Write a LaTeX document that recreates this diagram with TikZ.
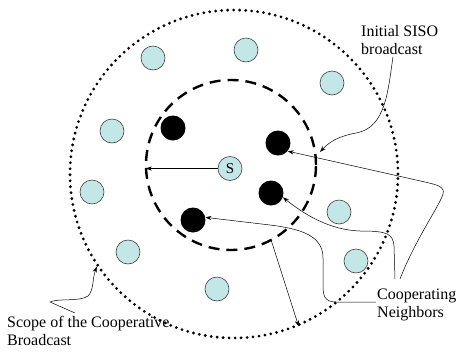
\documentclass[tikz,border=0pt]{standalone}
\usepackage{fontspec}
\setmainfont{Liberation Serif}
\usetikzlibrary{arrows.meta}
\definecolor{nodecol}{RGB}{195,230,230}
\begin{document}
\begin{tikzpicture}[x=1pt,y=-1pt,
  nbr/.style={circle, draw=black!75, line width=0.6pt, fill=nodecol, minimum size=24pt, inner sep=0pt},
  coop/.style={circle, fill=black, minimum size=25pt, inner sep=0pt},
  lbl/.style={font=\fontsize{16}{18}\selectfont, align=left, inner sep=0pt, anchor=north west},
  conn/.style={line width=0.5pt, -{Stealth[length=6pt,width=4.2pt]}},
  rangecircle/.style={circle, draw, line width=2.4pt, dash pattern=on 11pt off 7pt, minimum size=170pt, inner sep=0pt},
  scopecircle/.style={circle, draw, line width=3.1pt, line cap=round, dash pattern=on 0pt off 6pt, minimum size=328pt, inner sep=0pt}]
\useasboundingbox (0,0) rectangle (459,360);
% regions
\node[scopecircle] (scope) at (234,174) {};
\node[rangecircle] (range) at (231,165) {};
% ordinary neighbours
\node[nbr] (n1) at (153,58) {};
\node[nbr] (n2) at (246,50) {};
\node[nbr] (n3) at (332,83) {};
\node[nbr] (n4) at (112,131) {};
\node[nbr] (n5) at (92,192) {};
\node[nbr] (n6) at (128,252) {};
\node[nbr] (n7) at (217,289) {};
\node[nbr] (n8) at (339,212) {};
\node[nbr] (n9) at (356,261) {};
\node[nbr, font=\fontsize{15}{15}\selectfont] (S) at (230,168.5) {S};
% cooperating neighbours
\node[coop] (b1) at (173,128) {};
\node[coop] (b2) at (278,143) {};
\node[coop] (b3) at (271,193) {};
\node[coop] (b4) at (193,220) {};
% labels
\node[lbl] (siso) at (361,25) {Initial SISO\\broadcast};
\node[lbl] (coopl) at (377,289) {Cooperating\\Neighbors};
\node[lbl] (scopel) at (7,316) {Scope of the Cooperative\\Broadcast};
% free ends
\coordinate (sisoend) at (393,57);
\coordinate (ca) at (400,279);
\coordinate (cb) at (395,279);
\coordinate (cc) at (376,302);
\coordinate (se) at (75,313);
% connectors
\draw[conn, shorten >=1pt] (S.west) -- (S.west -| range.west);
\draw[conn] (range.-62) -- (scope.-67);
\draw[conn] (sisoend) .. controls (388,90) and (386,128) .. (356,133)
  .. controls (340,136) and (330,141) .. (320,152);
\draw[conn] (ca) .. controls (415,240) and (440,205) .. (443,194)
  .. controls (445,187) and (438,185) .. (425,182) -- (b2.-40);
\draw[conn] (cb) -- (394,246) .. controls (393,233) and (386,231) .. (360,231)
  .. controls (330,230) and (305,215) .. (b3.-20);
\draw[conn] (cc) -- (336,302) .. controls (324,302) and (323,295) .. (323,285)
  -- (323,258) .. controls (323,236) and (302,229) .. (270,225) -- (b4.12);
\draw[conn] (se) -- (50,302) .. controls (58,298) and (80,302) .. (88,296)
  .. controls (94,290) and (92,280) .. (scope.-146);
\end{tikzpicture}
\end{document}
